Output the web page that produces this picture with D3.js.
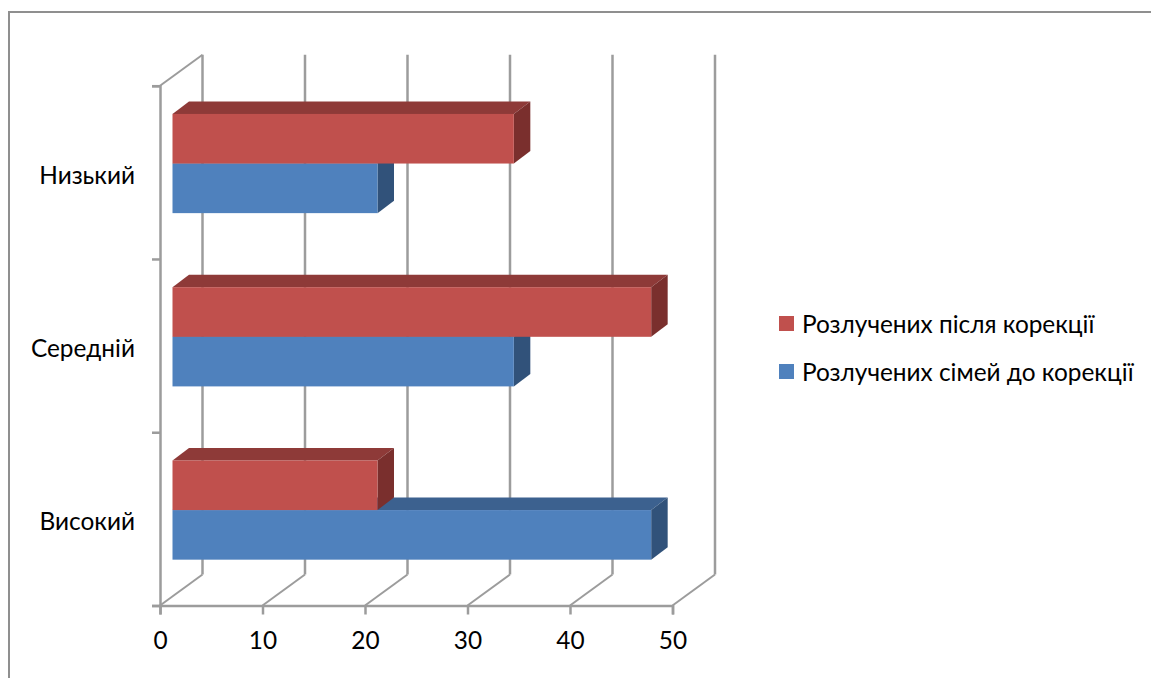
<!DOCTYPE html>
<html>
<head>
<meta charset="utf-8">
<script src="https://cdn.jsdelivr.net/npm/d3@7"></script>
<style>
  html, body { margin: 0; padding: 0; background: #fff; }
  svg { display: block; }
  text { font-family: Lato, "Open Sans", "Noto Sans", sans-serif; fill: #000; }
</style>
</head>
<body>
<div id="chart"></div>
<script>
const categories = ['Низький', 'Середній', 'Високий'];
const seriesNames = ['Розлучених після корекції', 'Розлучених сімей до корекції'];
const afterValues = [33.3, 46.7, 20];
const beforeValues = [20, 33.3, 46.7];
const xTicks = [0, 10, 20, 30, 40, 50];

const width = 1151, height = 678;
const fontSize = 24.4;

// Oblique offsets of the pseudo 3D box
const wall = { dx: 42.5, dy: -31 };
const gap = { dx: 12.5, dy: -8.8 };
const depth = { dx: 16.5, dy: -12.5 };

const colors = {
    frame: '#8f8f8f',
    axis: '#9c9c9c',
    after: { front: '#c0504d', top: '#8e3a38', side: '#7a2f2d' },
    before: { front: '#4f81bd', top: '#3c618f', side: '#31527a' }
};

const svg = d3.select('#chart')
    .append('svg')
    .attr('width', width)
    .attr('height', height)
    .attr('viewBox', `0 0 ${width} ${height}`);

const x = d3.scaleLinear().domain([0, 50]).range([160, 672.5]);
const y = d3.scaleBand().domain(categories).range([85.7, 605.5]);
const ySeries = d3.scaleBand().domain(seriesNames).range([-49.6, 49.6]);

// Outer border, open on the right and at the bottom
svg.append('path')
    .attr('d', `M9,${height} V12 H${width}`)
    .attr('fill', 'none')
    .attr('stroke', colors.frame)
    .attr('stroke-width', 2);

// Back wall grid and floor lines
const grid = svg.append('g').attr('fill', 'none').attr('stroke', colors.axis);
const [yTop, yBottom] = y.range();

grid.selectAll('.grid-line')
    .data(xTicks)
    .join('path')
    .attr('class', 'grid-line')
    .attr('stroke-width', 2.5)
    .attr('d', d => `M${x(d) + wall.dx},${yTop + wall.dy} V${yBottom + wall.dy}`);

grid.selectAll('.floor-line')
    .data(xTicks)
    .join('path')
    .attr('class', 'floor-line')
    .attr('stroke-width', 2)
    .attr('d', d => `M${x(d)},${yBottom} l${wall.dx},${wall.dy}`);

// Left wall top edge
grid.append('path')
    .attr('stroke-width', 2)
    .attr('d', `M${x(0)},${yTop} l${wall.dx},${wall.dy}`);

// Value axis along the floor front edge
const xAxis = svg.append('g')
    .attr('transform', `translate(0,${yBottom})`)
    .call(d3.axisBottom(x).tickValues(xTicks).tickSize(9).tickPadding(17).tickFormat(d3.format('d')));
xAxis.select('.domain').attr('stroke', colors.axis).attr('stroke-width', 2.5);
xAxis.selectAll('.tick line').attr('stroke', colors.axis).attr('stroke-width', 2.5);
xAxis.selectAll('text').style('font-size', fontSize + 'px').style('font-family', null);

// Category axis: ticks sit on the band edges, labels in the band centres
const edges = d3.range(categories.length + 1).map(i => yTop + i * y.step());
const yEdges = d3.scaleLinear().domain([yTop, yBottom]).range([yTop, yBottom]);
const yAxis = svg.append('g')
    .attr('transform', `translate(${x(0)},0)`)
    .call(d3.axisLeft(yEdges).tickValues(edges).tickSize(8).tickFormat(''));
yAxis.select('.domain').attr('stroke', colors.axis).attr('stroke-width', 2.5);
yAxis.selectAll('.tick line').attr('stroke', colors.axis).attr('stroke-width', 2.5);

svg.append('g')
    .selectAll('text')
    .data(categories)
    .join('text')
    .attr('x', 135)
    .attr('y', d => y(d) + y.bandwidth() / 2 + 3)
    .attr('dy', '0.35em')
    .attr('text-anchor', 'end')
    .style('font-size', fontSize + 'px')
    .text(d => d);

// One box: front face, top face, right side
function drawBox(g, category, value, name, palette) {
    const x0 = x(0) + gap.dx;
    const x1 = x(value) + gap.dx;
    const top = y(category) + y.bandwidth() / 2 + gap.dy + ySeries(name);
    const bottom = top + ySeries.bandwidth();

    g.append('path')
        .attr('fill', palette.top)
        .attr('d', `M${x0},${top} l${depth.dx},${depth.dy} H${x1 + depth.dx} L${x1},${top} Z`);
    g.append('path')
        .attr('fill', palette.side)
        .attr('d', `M${x1},${top} l${depth.dx},${depth.dy} V${bottom + depth.dy} L${x1},${bottom} Z`);
    g.append('rect')
        .attr('x', x0)
        .attr('y', top)
        .attr('width', x1 - x0)
        .attr('height', bottom - top)
        .attr('fill', palette.front);
}

// The lower series goes first so the upper box can sit on top of it
const bars = svg.append('g');
categories.forEach((category, i) => {
    drawBox(bars, category, beforeValues[i], seriesNames[1], colors.before);
    drawBox(bars, category, afterValues[i], seriesNames[0], colors.after);
});

// Legend
const legendY = d3.scalePoint().domain(seriesNames).range([323.5, 371.5]);
const legend = svg.append('g')
    .selectAll('g')
    .data(seriesNames)
    .join('g')
    .attr('transform', d => `translate(779,${legendY(d)})`);

legend.append('rect')
    .attr('y', -7.5)
    .attr('width', 15)
    .attr('height', 15)
    .attr('fill', (d, i) => (i === 0 ? colors.after.front : colors.before.front));

legend.append('text')
    .attr('x', 23)
    .attr('y', 1)
    .attr('dy', '0.35em')
    .style('font-size', fontSize + 'px')
    .text(d => d);
</script>
</body>
</html>
